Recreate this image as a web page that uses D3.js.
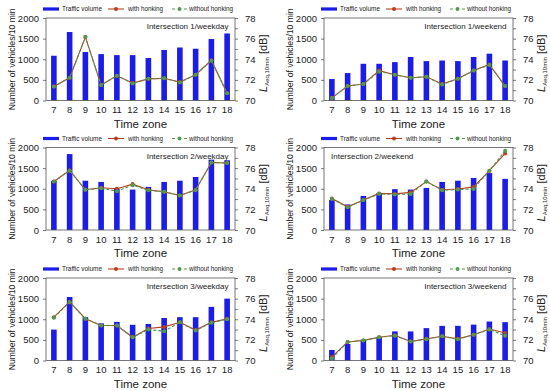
<!DOCTYPE html>
<html>
<head>
<meta charset="utf-8">
<script src="https://cdn.jsdelivr.net/npm/d3@7"></script>
<style>
  body { margin: 0; background: #fff; }
  svg { display: block; font-family: "Liberation Sans", Arial, sans-serif; }
</style>
</head>
<body>
<div id="chart"></div>
<script>
// time zones (hour of day)
const hours = [7, 8, 9, 10, 11, 12, 13, 14, 15, 16, 17, 18];

// traffic volume, vehicles / 10 min
const volume1Weekday = [1085, 1660, 1175, 1125, 1100, 1100, 1030, 1225, 1285, 1255, 1490, 1625];
const volume1Weekend = [520, 665, 890, 890, 930, 1055, 955, 970, 955, 1055, 1135, 970];
const volume2Weekday = [1195, 1840, 1195, 1165, 1000, 980, 1045, 1165, 1195, 1285, 1705, 1690];
const volume2Weekend = [730, 620, 825, 895, 990, 980, 1020, 1165, 1195, 1260, 1380, 1240];
const volume3Weekday = [750, 1540, 1050, 900, 935, 865, 885, 1030, 1050, 1050, 1300, 1500];
const volume3Weekend = [255, 400, 505, 575, 705, 705, 785, 840, 840, 870, 945, 930];

// LAeq,10min [dB] with honking
const honk1Weekday = [71.35, 72.2, 76.15, 71.5, 72.4, 71.7, 72.1, 72.15, 71.8, 72.5, 73.9, 70.7];
const honk1Weekend = [70.25, 71.4, 71.6, 72.9, 72.5, 72.2, 72.3, 71.6, 72.1, 72.9, 73.5, 71.4];
const honk2Weekday = [74.7, 75.8, 73.9, 74.1, 74.0, 74.45, 73.9, 73.7, 73.35, 73.9, 76.55, 76.5];
const honk2Weekend = [73.05, 72.25, 72.9, 73.55, 73.5, 73.65, 74.7, 73.9, 73.98, 74.18, 75.75, 77.42];
const honk3Weekday = [74.2, 75.7, 74.05, 73.4, 73.4, 72.25, 73.1, 73.26, 73.7, 72.95, 73.7, 74.05];
const honk3Weekend = [70.35, 71.8, 71.95, 72.25, 72.45, 71.85, 72.1, 72.35, 72.1, 72.5, 73.05, 72.66];

// LAeq,10min [dB] without honking
const quiet1Weekday = [71.35, 72.2, 76.15, 71.5, 72.4, 71.65, 72.1, 72.15, 71.75, 72.5, 73.85, 70.7];
const quiet1Weekend = [70.25, 71.4, 71.6, 72.8, 72.5, 72.2, 72.3, 71.55, 72.1, 72.9, 73.45, 71.4];
const quiet2Weekday = [74.7, 75.75, 73.9, 74.05, 73.76, 74.35, 73.85, 73.7, 73.35, 73.85, 76.55, 76.5];
const quiet2Weekend = [73.0, 72.2, 72.9, 73.5, 73.45, 73.5, 74.7, 73.85, 73.92, 73.98, 75.75, 77.68];
const quiet3Weekday = [74.15, 75.65, 74.05, 73.4, 73.4, 72.25, 73.0, 72.84, 73.7, 72.9, 73.65, 74.0];
const quiet3Weekend = [70.2, 71.8, 71.95, 72.25, 72.4, 71.85, 72.05, 72.35, 72.05, 72.5, 73.0, 72.4];

const volumeTicks = [0, 500, 1000, 1500, 2000];
const levelTicks = [70, 72, 74, 76, 78];

const panels = [
  { label: "Intersection 1/weekday", volume: volume1Weekday, honk: honk1Weekday, quiet: quiet1Weekday, col: 0, row: 0, anchor: "end" },
  { label: "Intersection 1/weekend", volume: volume1Weekend, honk: honk1Weekend, quiet: quiet1Weekend, col: 1, row: 0, anchor: "end" },
  { label: "Intersection 2/weekday", volume: volume2Weekday, honk: honk2Weekday, quiet: quiet2Weekday, col: 0, row: 1, anchor: "end" },
  { label: "Intersection 2/weekend", volume: volume2Weekend, honk: honk2Weekend, quiet: quiet2Weekend, col: 1, row: 1, anchor: "start" },
  { label: "Intersection 3/weekday", volume: volume3Weekday, honk: honk3Weekday, quiet: quiet3Weekday, col: 0, row: 2, anchor: "end" },
  { label: "Intersection 3/weekend", volume: volume3Weekend, honk: honk3Weekend, quiet: quiet3Weekend, col: 1, row: 2, anchor: "end" }
];

const width = 550, height = 391;
const colX = [0, 278];
const rowY = [0, 129.5, 260];
const plot = { left: 46, right: 235, top: 18, bottom: 100.5 };

const barColor = "#1c1ce8";
const honkColor = "#b5401f";
const quietColor = "#4f9a4f";

const svg = d3.select("#chart").append("svg")
  .attr("width", width)
  .attr("height", height)
  .attr("viewBox", `0 0 ${width} ${height}`);

const x = d3.scaleBand().domain(hours).range([plot.left, plot.right]);
const yVol = d3.scaleLinear().domain([0, 2000]).range([plot.bottom, plot.top]);
const yDb = d3.scaleLinear().domain([70, 78]).range([plot.bottom, plot.top]);
const cx = h => x(h) + x.bandwidth() / 2;

panels.forEach(p => drawPanel(p));

function drawPanel(p) {
  const g = svg.append("g")
    .attr("transform", `translate(${colX[p.col]}, ${rowY[p.row]})`);

  // bars
  const barW = 5.6;
  g.selectAll("rect.bar")
    .data(hours.map((h, i) => ({ h, v: p.volume[i] })))
    .join("rect")
    .classed("bar", true)
    .attr("x", d => cx(d.h) - barW / 2)
    .attr("y", d => yVol(d.v))
    .attr("width", barW)
    .attr("height", d => yVol(0) - yVol(d.v))
    .attr("fill", barColor);

  // frame
  g.append("rect")
    .attr("x", plot.left).attr("y", plot.top)
    .attr("width", plot.right - plot.left)
    .attr("height", plot.bottom - plot.top)
    .attr("fill", "none")
    .attr("stroke", "#555")
    .attr("stroke-width", 0.8);

  // lines: with honking (solid) then without honking (dashed)
  const line = d3.line().x(d => cx(d.h)).y(d => yDb(d.v));
  const honkPts = hours.map((h, i) => ({ h, v: p.honk[i] }));
  const quietPts = hours.map((h, i) => ({ h, v: p.quiet[i] }));

  g.append("path").datum(honkPts)
    .attr("d", line).attr("fill", "none")
    .attr("stroke", honkColor).attr("stroke-width", 1.1);
  g.append("path").datum(quietPts)
    .attr("d", line).attr("fill", "none")
    .attr("stroke", quietColor).attr("stroke-width", 1.1)
    .attr("stroke-dasharray", "3,2");

  g.selectAll("circle.honk").data(honkPts).join("circle")
    .classed("honk", true)
    .attr("cx", d => cx(d.h)).attr("cy", d => yDb(d.v))
    .attr("r", 2).attr("fill", honkColor);
  g.selectAll("circle.quiet").data(quietPts).join("circle")
    .classed("quiet", true)
    .attr("cx", d => cx(d.h)).attr("cy", d => yDb(d.v))
    .attr("r", 2).attr("fill", quietColor);

  // axes
  const leftAxis = g.append("g")
    .attr("transform", `translate(${plot.left},0)`)
    .call(d3.axisLeft(yVol).tickValues(volumeTicks).tickSize(3).tickPadding(4).tickFormat(d3.format("d")));
  const rightAxis = g.append("g")
    .attr("transform", `translate(${plot.right},0)`)
    .call(d3.axisRight(yDb).tickValues(d3.range(70, 78.1, 1)).tickSize(3).tickPadding(7)
      .tickFormat(d => levelTicks.includes(d) ? d : ""));
  const bottomAxis = g.append("g")
    .attr("transform", `translate(0,${plot.bottom})`)
    .call(d3.axisBottom(x).tickSize(0).tickPadding(6));

  [leftAxis, rightAxis, bottomAxis].forEach(a => {
    a.select(".domain").remove();
    a.selectAll("line").attr("stroke", "#555").attr("stroke-width", 0.8);
    a.selectAll("text").attr("font-size", 9.5).attr("fill", "#222")
      .attr("font-family", "Liberation Sans, Arial, sans-serif");
  });

  // axis titles
  g.append("text")
    .attr("x", (plot.left + plot.right) / 2).attr("y", 127.5)
    .attr("text-anchor", "middle")
    .attr("font-size", 11.5).attr("fill", "#222")
    .text("Time zone");

  g.append("text")
    .attr("transform", `translate(15, ${(plot.top + plot.bottom) / 2}) rotate(-90)`)
    .attr("text-anchor", "middle")
    .attr("font-size", 8.6).attr("fill", "#222")
    .text("Number of vehicles/10 min");

  const rt = g.append("text")
    .attr("transform", `translate(267, ${(plot.top + plot.bottom) / 2 + 4}) rotate(-90)`)
    .attr("text-anchor", "middle")
    .attr("font-size", 11).attr("fill", "#222");
  rt.append("tspan").attr("font-style", "italic").text("L");
  rt.append("tspan").attr("font-size", 6).attr("dy", 2).text("Aeq,10min");
  rt.append("tspan").attr("dy", -2).text(" [dB]");

  // panel label
  g.append("text")
    .attr("x", p.anchor === "end" ? 228.5 : 53)
    .attr("y", plot.top + 11)
    .attr("text-anchor", p.anchor)
    .attr("font-size", 8).attr("fill", "#222")
    .text(p.label);

  // legend
  const ly = plot.top - 9;
  const lg = g.append("g").attr("font-size", 6.6).attr("fill", "#222");
  lg.append("rect").attr("x", 43).attr("y", ly - 1.6).attr("width", 16).attr("height", 3.2).attr("fill", barColor);
  lg.append("text").attr("x", 62).attr("y", ly + 2.3)
    .attr("textLength", 40).attr("lengthAdjust", "spacingAndGlyphs").text("Traffic volume");
  lg.append("line").attr("x1", 108).attr("x2", 124).attr("y1", ly).attr("y2", ly)
    .attr("stroke", honkColor).attr("stroke-width", 1.1);
  lg.append("circle").attr("cx", 116).attr("cy", ly).attr("r", 2).attr("fill", honkColor);
  lg.append("text").attr("x", 128).attr("y", ly + 2.3)
    .attr("textLength", 35).attr("lengthAdjust", "spacingAndGlyphs").text("with honking");
  lg.append("line").attr("x1", 172).attr("x2", 187).attr("y1", ly).attr("y2", ly)
    .attr("stroke", quietColor).attr("stroke-width", 1.1).attr("stroke-dasharray", "3,3");
  lg.append("circle").attr("cx", 179.5).attr("cy", ly).attr("r", 2).attr("fill", quietColor);
  lg.append("text").attr("x", 189).attr("y", ly + 2.3)
    .attr("textLength", 44).attr("lengthAdjust", "spacingAndGlyphs").text("without honking");
}
</script>
</body>
</html>
